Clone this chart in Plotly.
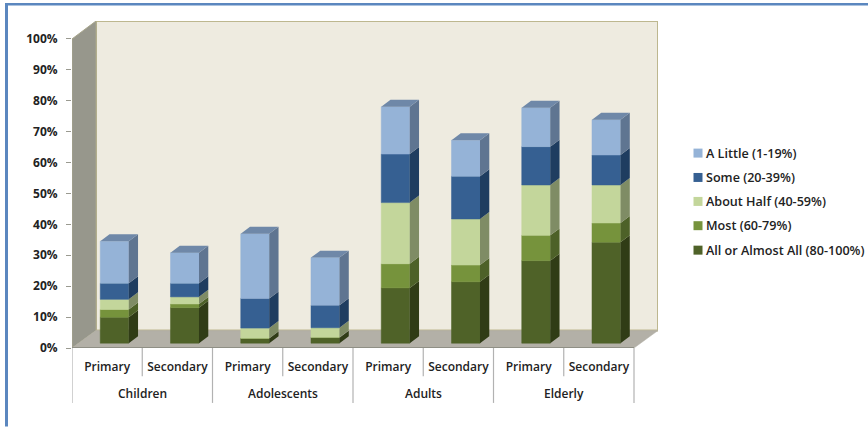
import plotly.graph_objects as go

# Survey shares by age group and care level (percent of respondents)
groups = ["Children", "Adolescents", "Adults", "Elderly"]
levels = ["Primary", "Secondary"] * 4
series_names = ["All or Almost All (80-100%)", "Most (60-79%)", "About Half (40-59%)",
                "Some (20-39%)", "A Little (1-19%)"]
all_or_almost = [8.4, 11.5, 1.5, 1.8, 17.9, 19.9, 26.7, 32.7]
most = [2.5, 1.2, 0.1, 0.1, 7.8, 5.4, 8.2, 6.2]
about_half = [3.3, 2.3, 3.3, 3.1, 19.8, 14.9, 16.3, 12.3]
some = [5.2, 4.4, 9.6, 7.3, 15.7, 13.8, 12.4, 9.7]
a_little = [13.6, 9.9, 20.9, 15.4, 15.3, 11.7, 12.6, 11.4]
values = [all_or_almost, most, about_half, some, a_little]

front_colors = ["#4f6228", "#76933c", "#c3d69b", "#366092", "#95b3d7"]
side_colors = ["#303c16", "#4d6128", "#7f8c65", "#1f3d60", "#5f7591"]
top_color = "#6f88a8"

# Page and pseudo-3D box geometry, in pixels
W, H = 868, 427
LEFT, RIGHT_FRONT, RIGHT_BACK = 72, 634, 658
FLOOR_FRONT, TOP_BACK = 348.5, 21
PX_PER_PCT = 3.095
BOX_DX, BOX_DY = 24, 17.5
CAT_PX = (RIGHT_FRONT - LEFT) / 8

# Axis units: one category per x unit, one percent per y unit
box_dx = BOX_DX / CAT_PX
box_dy = BOX_DY / PX_PER_PCT
bar_width = 0.406
bar_shift = 0.105
bar_dx = 0.132
bar_dy = 2.26
bar_lift = 1.55

centers = [i + 0.5 + bar_shift for i in range(8)]

fig = go.Figure()
bases = [bar_lift] * 8
for name, vals, front, side in zip(series_names, values, front_colors, side_colors):
    fig.add_trace(go.Bar(
        x=centers, y=vals, base=bases, width=bar_width, name=name, showlegend=False,
        marker=dict(color=front, line=dict(color=front, width=0.5)),
    ))
    xs, ys = [], []
    for c, b, v in zip(centers, bases, vals):
        r = c + bar_width / 2
        xs += [r, r + bar_dx, r + bar_dx, r, r, None]
        ys += [b, b + bar_dy, b + v + bar_dy, b + v, b, None]
    fig.add_trace(go.Scatter(
        x=xs, y=ys, mode="lines", fill="toself", fillcolor=side,
        line=dict(width=0, color=side), showlegend=False, hoverinfo="skip",
    ))
    bases = [b + v for b, v in zip(bases, vals)]

# Top faces of the stacks
xs, ys = [], []
for c, t in zip(centers, bases):
    l, r = c - bar_width / 2, c + bar_width / 2
    xs += [l, r, r + bar_dx, l + bar_dx, l, None]
    ys += [t, t, t + bar_dy, t + bar_dy, t, None]
fig.add_trace(go.Scatter(
    x=xs, y=ys, mode="lines", fill="toself", fillcolor=top_color,
    line=dict(width=0, color=top_color), showlegend=False, hoverinfo="skip",
))

def poly(points):
    return "M" + "L".join(f"{x},{y}" for x, y in points) + "Z"

y_top = (FLOOR_FRONT - TOP_BACK) / PX_PER_PCT
x_max = 8 + box_dx
shapes = [
    # back wall, side wall, floor
    dict(type="path", path=poly([(box_dx, box_dy), (x_max, box_dy), (x_max, y_top), (box_dx, y_top)]),
         fillcolor="#eeebe0", line=dict(color="#bdb78f", width=2), layer="below"),
    dict(type="path", path=poly([(0, 0), (box_dx, box_dy), (box_dx, y_top), (0, 100)]),
         fillcolor="#97978c", line=dict(color="#a8a68c", width=1), layer="below"),
    dict(type="path", path=poly([(0, 0), (8, 0), (x_max, box_dy), (box_dx, box_dy)]),
         fillcolor="#b3b0a7", line=dict(color="#b3b0a7", width=0.5), layer="below"),
    dict(type="line", x0=0, x1=8, y0=0, y1=0, line=dict(color="#8f8f85", width=2), layer="below"),
]

plot_w = RIGHT_BACK - LEFT
plot_h = FLOOR_FRONT - TOP_BACK
def px(x):
    return (x - LEFT) / plot_w
def py(y):
    return (FLOOR_FRONT - y) / plot_h

# Category separators below the floor
for i in range(9):
    shapes.append(dict(type="line", xref="x", yref="paper", x0=i, x1=i, y0=0,
                       y1=py(403.5) if i % 2 == 0 else py(376.7),
                       line=dict(color="#b2b2b2", width=1.2)))

# Blue frame along the left and top of the page
frame = "#5b87bf"
shapes.append(dict(type="rect", xref="paper", yref="paper", x0=px(5), x1=px(8), y0=py(427), y1=py(3),
                   fillcolor=frame, line=dict(width=0)))
shapes.append(dict(type="rect", xref="paper", yref="paper", x0=px(5), x1=px(868), y0=py(5.5), y1=py(3),
                   fillcolor=frame, line=dict(width=0)))

font_family = "Open Sans, sans-serif"
annotations = [
    dict(x=2 * i + 1, y=py(394), xref="x", yref="paper", text=g, showarrow=False,
         font=dict(family=font_family, size=12, color="#222222", weight=600), yanchor="middle")
    for i, g in enumerate(groups)
]

# Key at the right, listed from the top of the stack downward
key_rows = [153.3, 177.7, 201.7, 226, 250.5]
for name, color, row in zip(series_names[::-1], front_colors[::-1], key_rows):
    shapes.append(dict(type="rect", xref="paper", yref="paper", x0=px(693.5), x1=px(702.5),
                       y0=py(row + 4.5), y1=py(row - 4.5), fillcolor=color, line=dict(width=0)))
    annotations.append(dict(x=px(703.5), y=py(row), xref="paper", yref="paper", text=name,
                            xanchor="left", yanchor="middle", showarrow=False,
                            font=dict(family=font_family, size=12.6, color="#222222", weight=600)))

fig.update_layout(
    width=W, height=H, autosize=False,
    margin=dict(l=LEFT, r=W - RIGHT_BACK, t=TOP_BACK, b=H - FLOOR_FRONT, pad=0),
    paper_bgcolor="white", plot_bgcolor="rgba(0,0,0,0)",
    barmode="overlay", shapes=shapes, annotations=annotations, showlegend=False,
    font=dict(family=font_family, size=12, color="#222222"),
    xaxis=dict(range=[0, x_max], tickvals=[i + 0.5 for i in range(8)], ticktext=levels,
               ticks="outside", ticklen=8, tickcolor="rgba(0,0,0,0)", showgrid=False, zeroline=False,
               showline=False, tickangle=0, fixedrange=True,
               tickfont=dict(family=font_family, size=12, color="#222222", weight=600)),
    yaxis=dict(range=[0, y_top], tickvals=list(range(0, 101, 10)),
               ticktext=[f"{v}%" for v in range(0, 101, 10)],
               ticks="outside", ticklen=5, tickcolor="#9a9a90", ticklabelstandoff=6,
               showgrid=False, zeroline=False, showline=False, fixedrange=True,
               tickfont=dict(family=font_family, size=12, color="#222222", weight=700)),
)

fig.write_html("out.html", config=dict(displayModeBar=False, responsive=False),
               default_width=f"{W}px", default_height=f"{H}px",
               post_script="document.documentElement.style.overflow='hidden';document.body.style.overflow='hidden';")
